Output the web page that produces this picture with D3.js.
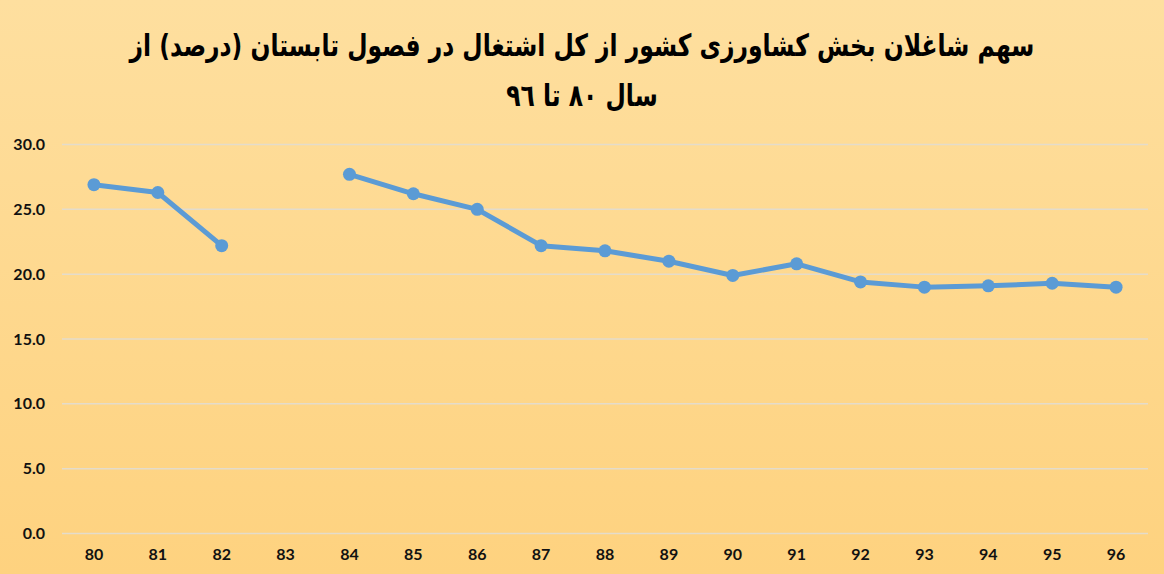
<!DOCTYPE html>
<html>
<head>
<meta charset="utf-8">
<script src="https://cdn.jsdelivr.net/npm/d3@7"></script>
<style>
  body { margin: 0; }
  svg { display: block; }
</style>
</head>
<body>
<svg id="svg" width="1164" height="574"></svg>
<script>
var years = ["80","81","82","83","84","85","86","87","88","89","90","91","92","93","94","95","96"];
var share = [26.9, 26.3, 22.2, null, 27.7, 26.2, 25.0, 22.2, 21.8, 21.0, 19.9, 20.8, 19.4, 19.0, 19.1, 19.3, 19.0];
var yTicks = [0, 5, 10, 15, 20, 25, 30];
var titleLines = ["سهم شاغلان بخش کشاورزی کشور از کل اشتغال در فصول تابستان (درصد) از", "سال ۸۰ تا ٩٦"];

var W = 1164, H = 574;
var plotLeft = 62, plotRight = 1148, plotTop = 144.5, plotBottom = 533.5;

var svg = d3.select("#svg");

// background gradient
var grad = svg.append("defs").append("linearGradient")
    .attr("id", "bg").attr("x1", 0).attr("y1", 0).attr("x2", 0).attr("y2", 1);
grad.append("stop").attr("offset", "0%").attr("stop-color", "#fedf9f");
grad.append("stop").attr("offset", "100%").attr("stop-color", "#fed27f");
svg.append("rect").attr("width", W).attr("height", H).attr("fill", "url(#bg)");

var x = d3.scaleBand().domain(years).range([plotLeft, plotRight]);
var y = d3.scaleLinear().domain([0, 30]).range([plotBottom, plotTop]);

// grid
svg.append("g")
    .selectAll("line")
    .data(yTicks).enter().append("line")
        .attr("x1", plotLeft).attr("x2", plotRight)
        .attr("y1", d => y(d)).attr("y2", d => y(d))
        .attr("stroke", "#e4dccb")
        .attr("stroke-width", 1.5);

// y axis labels
var yAxis = svg.append("g")
    .attr("transform", "translate(45,0)")
    .call(d3.axisLeft(y).tickValues(yTicks).tickFormat(d3.format(".1f")).tickSize(0).tickPadding(0));
yAxis.select(".domain").remove();
yAxis.selectAll("text")
    .attr("font-family", "Lato, 'Open Sans', sans-serif")
    .attr("font-weight", "bold")
    .attr("font-size", "16px")
    .attr("fill", "#111");

// x axis labels
var xAxis = svg.append("g")
    .attr("transform", "translate(0," + (plotBottom + 15) + ")")
    .call(d3.axisBottom(x).tickSize(0).tickPadding(0));
xAxis.select(".domain").remove();
xAxis.selectAll("text")
    .attr("font-family", "Lato, 'Open Sans', sans-serif")
    .attr("font-weight", "bold")
    .attr("font-size", "16px")
    .attr("fill", "#111");

var pts = years.map((d, i) => ({year: d, value: share[i]}));

var line = d3.line()
    .defined(d => d.value != null)
    .x(d => x(d.year) + x.bandwidth() / 2)
    .y(d => y(d.value));

svg.append("path")
    .datum(pts)
    .attr("d", line)
    .attr("fill", "none")
    .attr("stroke", "#5b9bd5")
    .attr("stroke-width", 5)
    .attr("stroke-linejoin", "round");

svg.selectAll(".dot")
    .data(pts.filter(d => d.value != null)).enter().append("circle")
        .attr("class", "dot")
        .attr("cx", d => x(d.year) + x.bandwidth() / 2)
        .attr("cy", d => y(d.value))
        .attr("r", 6.5)
        .attr("fill", "#5b9bd5");

// title, scaled to the reference width and stretched a bit vertically
var stretch = 1.3;
var title = svg.append("g").attr("transform", "scale(1," + stretch + ")");
var t1 = title.append("text")
    .attr("x", 582).attr("y", 56 / stretch)
    .attr("text-anchor", "middle")
    .attr("direction", "rtl")
    .attr("font-family", "'DejaVu Sans', sans-serif")
    .attr("font-weight", "bold")
    .attr("font-size", "26px")
    .attr("fill", "#000")
    .text(titleLines[0]);
var w1 = t1.node().getComputedTextLength();
var fs = 26 * 905 / w1;
t1.attr("font-size", fs + "px");
title.append("text")
    .attr("x", 582).attr("y", 106 / stretch)
    .attr("text-anchor", "middle")
    .attr("direction", "rtl")
    .attr("font-family", "'DejaVu Sans', sans-serif")
    .attr("font-weight", "bold")
    .attr("font-size", fs + "px")
    .attr("fill", "#000")
    .text(titleLines[1]);
</script>
</body>
</html>
